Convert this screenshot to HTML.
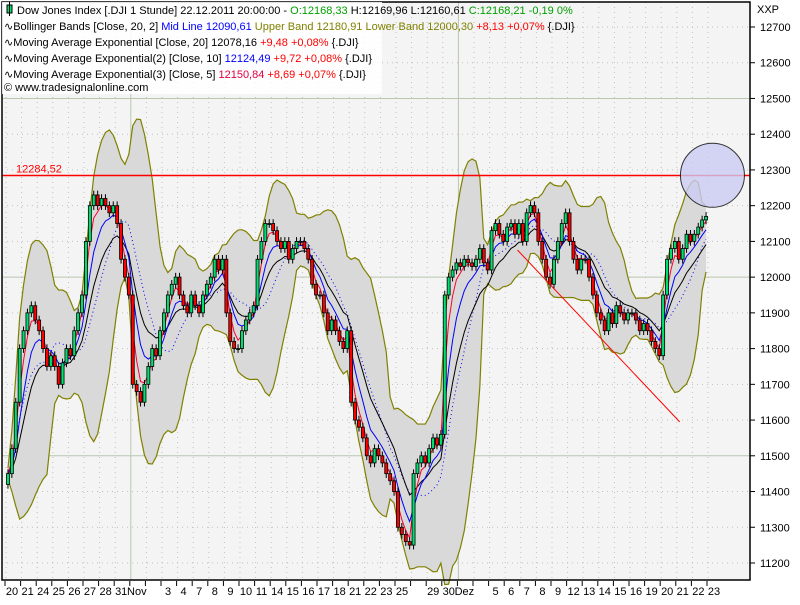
<!DOCTYPE html>
<html><head><meta charset="utf-8"><style>
body{margin:0;background:#fff;width:800px;height:600px;overflow:hidden;font-family:"Liberation Sans",sans-serif}
svg text{font-family:"Liberation Sans",sans-serif;font-size:11px}
</style></head><body>
<svg id="chart" width="800" height="600" xmlns="http://www.w3.org/2000/svg">
<rect x="0" y="0" width="800" height="600" fill="#fff"/>
<rect x="2" y="2" width="748" height="578" fill="#f4f4f4"/>
<g id="grid"></g>
<g id="bands"></g>
<g id="lines"></g>
<g id="candles"></g>
<g id="annot"></g>
<rect x="2" y="2" width="748" height="578" fill="none" stroke="#000" stroke-width="1.5"/>
<g id="yaxis"></g>
<g id="xaxis"></g>
<g>
<rect x="2" y="2" width="380" height="92" fill="#fff" opacity="0.85"/>
<rect x="7" y="5" width="5" height="8" fill="#00e070" stroke="#000"/><line x1="9.5" y1="2" x2="9.5" y2="16" stroke="#000"/>
<text x="17" y="14">Dow Jones Index [.DJI  1 Stunde] 22.12.2011 20:00:00 - <tspan fill="#00a000">O:12168,33</tspan> H:12169,96 L:12160,61 <tspan fill="#00a000">C:12168,21 -0,19 0%</tspan></text>
<text x="4" y="30">∿Bollinger Bands [Close, 20, 2] <tspan fill="#0000ff">Mid Line 12090,61</tspan> <tspan fill="#808000">Upper Band 12180,91 Lower Band 12000,30</tspan> <tspan fill="#ff0000">+8,13 +0,07%</tspan> {.DJI}</text>
<text x="4" y="46">∿Moving Average Exponential [Close, 20] 12078,16 <tspan fill="#ff0000">+9,48 +0,08%</tspan> {.DJI}</text>
<text x="4" y="62">∿Moving Average Exponential(2) [Close, 10] <tspan fill="#0000ff">12124,49</tspan> <tspan fill="#ff0000">+9,72 +0,08%</tspan> {.DJI}</text>
<text x="4" y="78">∿Moving Average Exponential(3) [Close, 5] <tspan fill="#e00040">12150,84</tspan> <tspan fill="#ff0000">+8,69 +0,07%</tspan> {.DJI}</text>
<text x="4" y="91">© www.tradesignalonline.com</text>
</g>
</svg>
<script>
const dayLabels=["20","21","24","25","26","27","28","31","Nov","","3","4","7","8","9","10","11","14","15","16","17","18","21","22","23","25","","29","30","Dez","","5","6","7","8","9","12","13","14","15","16","19","20","21","22","23"];
const closes=[
11450,11520,11650,11800, 11850,11900,11920,11880, 11850,11800,11750,11780, 11750,11700,11760,11800,
11780,11850,11900,11950, 12100,12200,12230,12200, 12220,12200,12180,12200, 12150,12050,12000,11950,
11700,11680,11650,11700, 11750,11800,11780,11850, 11900,11950,11980,12000, 11950,11920,11900,11950,
11920,11900,11950,11980, 12000,12050,12020,12050, 11900,11820,11800,11800, 11850,11880,11900,11920,
12050,12100,12150,12150, 12130,12100,12080,12100, 12050,12080,12100,12100, 12080,12050,11980,11950,
11950,11900,11850,11880, 11850,11820,11800,11850, 11650,11600,11580,11550, 11500,11480,11520,11500,
11480,11450,11430,11400, 11300,11280,11260,11250, 11450,11480,11500,11480, 11520,11550,11530,11560,
11950,12000,12020,12040, 12030,12050,12040,12030, 12050,12080,12040,12020, 12130,12150,12120,12100,
12140,12150,12120,12150, 12100,12180,12200,12180, 12100,12050,12000,11980, 12050,12100,12150,12180,
12100,12050,12020,12050, 12050,12000,11950,11900, 11880,11850,11900,11870, 11920,11900,11880,11900,
11900,11880,11850,11870, 11850,11820,11800,11780, 11950,12050,12080,12100, 12050,12080,12120,12100,
12120,12140,12160,12170];
const firstOpen=11420;
const yTicks=[11200,11300,11400,11500,11600,11700,11800,11900,12000,12100,12200,12300,12400,12500,12600,12700];
const refLevel=12284.52;
const trend=[[32.4,12076],[42.8,11595]];
const circlePt=[44.9,12285];

const NS="http://www.w3.org/2000/svg";
const PER=4, DAYW=15.6, X0=12;
const y=p=>27+(12700-p)*0.35733;
const xd=d=>X0+d*DAYW;
const xb=i=>X0-6+(i+0.5)*DAYW/PER;
function mk(tag,attrs,parent,txt){const e=document.createElementNS(NS,tag);for(const k in attrs)e.setAttribute(k,attrs[k]);if(txt!==undefined)e.textContent=txt;document.getElementById(parent).appendChild(e);return e;}

yTicks.forEach(v=>{const major=v%500===0;
 const g=mk('line',{x1:2,x2:750,y1:y(v),y2:y(v),stroke:major?'#b8c8b0':'#c0c0c0','stroke-dasharray':major?'':'1,4'},'grid');
 
 
 const t=mk('text',{x:760,y:y(v)+4,fill:'#000'},'yaxis',String(v));
 
 
 mk('line',{x1:750,x2:755,y1:y(v),y2:y(v),stroke:'#000'},'yaxis');
});
const xl=mk('text',{x:757,y:13},'yaxis','XXP');


dayLabels.forEach((l,d)=>{const x=xd(d);
 const solid=(l==='Nov'||l==='Dez');
 const g=mk('line',{x1:x-6,x2:x-6,y1:2,y2:580,stroke:solid?'#b8c8b0':'#c0c0c0','stroke-dasharray':solid?'':'1,4'},'grid');
 
 
 mk('line',{x1:x-7,x2:x-7,y1:581,y2:586,stroke:'#000'},'xaxis');
 if(l){const t=mk('text',{x:x,y:595,'text-anchor':'middle'},'xaxis',l);
  
  }
});

function ema(n){const a=2/(n+1);let e=closes[0];return closes.map(c=>e=e+a*(c-e));}
const N=11,mid=[],up=[],lo=[];
closes.forEach((c,i)=>{const s=closes.slice(Math.max(0,i-N+1),i+1);const m=s.reduce((a,b)=>a+b,0)/s.length;
 const sd=Math.sqrt(s.reduce((a,b)=>a+(b-m)*(b-m),0)/s.length);mid.push(m);up.push(m+2*sd+15);lo.push(m-2*sd-15);});
let d='M'+closes.map((c,i)=>xb(i)+','+y(up[i])).join(' L');
for(let i=closes.length-1;i>=0;i--)d+=' L'+xb(i)+','+y(lo[i]);
const bf=mk('path',{d:d+'Z',fill:'#d9d9d9',stroke:'none'},'bands');


[up,lo].forEach((arr,k)=>{const p=mk('polyline',{points:arr.map((v,i)=>xb(i)+','+y(v)).join(' '),fill:'none',stroke:'#808000','stroke-width':1.2},'bands');
 
 });
function line(arr,col,name,dash){const p=mk('polyline',{points:arr.map((v,i)=>xb(i)+','+y(v)).join(' '),fill:'none',stroke:col,'stroke-width':1,'stroke-dasharray':dash||''},'lines');
 
 }
line(mid,'#0000ff','bollinger-mid-line','1,3');
line(ema(11),'#000000','ema-20');
line(ema(6),'#0000ff','ema-10');
line(ema(3),'#ff0030','ema-5');

closes.forEach((c,i)=>{const o=i?closes[i-1]:firstOpen;const hi=Math.max(o,c)+12,lw=Math.min(o,c)-12;const x=xb(i);
 mk('line',{x1:x,x2:x,y1:y(hi),y2:y(lw),stroke:'#000'},'candles');
 const r=mk('rect',{x:x-1.5,y:y(Math.max(o,c)),width:3,height:Math.max(1,Math.abs(y(o)-y(c))),fill:c>=o?'#00e070':'#ff0000',stroke:'#000','stroke-width':0.8},'candles');
 
 
});

const rl=mk('line',{x1:2,x2:750,y1:y(refLevel),y2:y(refLevel),stroke:'#ff0000','stroke-width':1.5},'annot');


const rt=mk('text',{x:16,y:y(refLevel)-3,fill:'#ff0000'},'annot','12284,52');


const tl=mk('line',{x1:xd(trend[0][0]),y1:y(trend[0][1]),x2:xd(trend[1][0]),y2:y(trend[1][1]),stroke:'#ff0000'},'annot');


const ci=mk('circle',{cx:xd(circlePt[0]),cy:y(circlePt[1]),r:32,fill:'#ccccf4',opacity:0.8,stroke:'#000'},'annot');


</script>
</body></html>
